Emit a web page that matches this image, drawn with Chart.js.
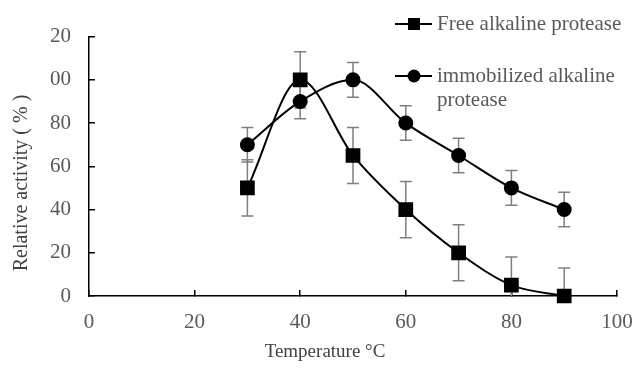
<!DOCTYPE html>
<html>
<head>
<meta charset="utf-8">
<script src="https://cdn.jsdelivr.net/npm/chart.js@4"></script>
<style>
  html, body { margin: 0; padding: 0; background: #fff; }
  #wrap { width: 633px; height: 368px; }
</style>
</head>
<body>
<div id="wrap"><canvas id="tempChart" width="633" height="368"></canvas></div>
<script>
// values
const temperatures = [30, 40, 50, 60, 70, 80, 90];
const freeActivity = [50, 100, 65, 40, 20, 5, 0];
const freeError = [13, 13, 13, 13, 13, 13, 13];
const immobilizedActivity = [70, 90, 100, 80, 65, 50, 40];
const immobilizedError = [8, 8, 8, 8, 8, 8, 8];
const seriesNames = ["Free alkaline protease", ["immobilized alkaline", "protease"]];

const serif = "'Liberation Serif', 'Times New Roman', serif";
const gray = "#595959";

function toPoints(xs, ys) {
  return xs.map((x, i) => ({ x: x, y: ys[i] }));
}

// draws the +/- bars under the markers
const errorBars = {
  id: "errorBars",
  beforeDatasetsDraw(chart) {
    const ctx = chart.ctx;
    const xs = chart.scales.x;
    const ys = chart.scales.y;
    const area = chart.chartArea;
    ctx.save();
    ctx.beginPath();
    ctx.rect(area.left, area.top - 20, area.right - area.left, area.bottom - area.top + 20);
    ctx.clip();
    ctx.strokeStyle = "#7f7f7f";
    ctx.lineWidth = 1.5;
    chart.data.datasets.forEach((ds) => {
      ds.data.forEach((p, i) => {
        const px = xs.getPixelForValue(p.x);
        const top = ys.getPixelForValue(p.y + ds.errors[i]);
        const bot = ys.getPixelForValue(p.y - ds.errors[i]);
        ctx.beginPath();
        ctx.moveTo(px, top);
        ctx.lineTo(px, bot);
        ctx.moveTo(px - 6, top);
        ctx.lineTo(px + 6, top);
        ctx.moveTo(px - 6, bot);
        ctx.lineTo(px + 6, bot);
        ctx.stroke();
      });
    });
    ctx.restore();
  },
};

// legend and axis titles
const extras = {
  id: "extras",
  afterDraw(chart) {
    const ctx = chart.ctx;
    ctx.save();
    ctx.font = "21px " + serif;
    ctx.fillStyle = gray;
    ctx.textBaseline = "middle";
    ctx.textAlign = "left";

    const rows = [24, 76];
    chart.data.datasets.forEach((ds, i) => {
      const y = rows[i];
      ctx.strokeStyle = "#000";
      ctx.lineWidth = 2;
      ctx.beginPath();
      ctx.moveTo(395, y);
      ctx.lineTo(432, y);
      ctx.stroke();
      ctx.fillStyle = "#000";
      if (ds.pointStyle === "rect") {
        ctx.fillRect(408, y - 6, 12, 12);
      } else {
        ctx.beginPath();
        ctx.arc(414, y, 6.5, 0, Math.PI * 2);
        ctx.fill();
      }
      ctx.fillStyle = gray;
      const lines = Array.isArray(seriesNames[i]) ? seriesNames[i] : [seriesNames[i]];
      lines.forEach((t, k) => ctx.fillText(t, 437, y + k * 24));
    });

    ctx.fillStyle = "#404040";
    ctx.textAlign = "center";
    ctx.font = "19px " + serif;
    ctx.fillText("Temperature °C", 325, 352);
    ctx.font = "20px " + serif;
    ctx.translate(22, 183);
    ctx.rotate(-Math.PI / 2);
    ctx.fillText("Relative activity ( % )", 0, 0);
    ctx.restore();
  },
};

const ctx = document.getElementById("tempChart").getContext("2d");

new Chart(ctx, {
  type: "line",
  data: {
    datasets: [
      {
        label: "Free alkaline protease",
        data: toPoints(temperatures, freeActivity),
        errors: freeError,
        borderColor: "#000",
        backgroundColor: "#000",
        borderWidth: 2,
        pointStyle: "rect",
        pointRadius: 9,
        cubicInterpolationMode: "monotone",
        clip: false,
      },
      {
        label: "immobilized alkaline protease",
        data: toPoints(temperatures, immobilizedActivity),
        errors: immobilizedError,
        borderColor: "#000",
        backgroundColor: "#000",
        borderWidth: 2,
        pointStyle: "circle",
        pointRadius: 6.5,
        cubicInterpolationMode: "monotone",
        clip: false,
      },
    ],
  },
  options: {
    responsive: false,
    animation: false,
    layout: { padding: { left: 0, top: 32, right: 0, bottom: 0 } },
    plugins: {
      legend: { display: false },
      tooltip: { enabled: false },
    },
    scales: {
      x: {
        type: "linear",
        min: 0,
        max: 100,
        ticks: {
          stepSize: 20,
          color: gray,
          padding: 20,
          font: { family: serif, size: 21 },
        },
        grid: {
          drawOnChartArea: false,
          drawTicks: true,
          tickLength: -6,
          color: "#000",
          lineWidth: 1.5,
        },
        border: { color: "#000", width: 1.5 },
        afterFit(scale) {
          scale.height = 72;
          scale.paddingLeft = 0;
          scale.paddingRight = 16;
        },
      },
      y: {
        min: 0,
        max: 120,
        ticks: {
          stepSize: 20,
          color: gray,
          padding: 24,
          font: { family: serif, size: 21 },
          callback: (v) => (v >= 100 ? String(v).slice(1) : String(v)),
        },
        grid: {
          drawOnChartArea: false,
          drawTicks: true,
          tickLength: -6,
          color: "#000",
          lineWidth: 1.5,
        },
        border: { color: "#000", width: 1.5 },
        afterFit(scale) { scale.width = 89; },
      },
    },
  },
  plugins: [errorBars, extras],
});
</script>
</body>
</html>
